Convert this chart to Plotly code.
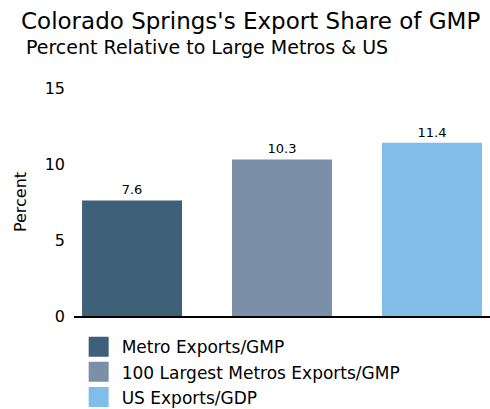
import plotly.graph_objects as go

# values
series_names = ["Metro Exports/GMP", "100 Largest Metros Exports/GMP", "US Exports/GDP"]
share_values = [7.6, 10.3, 11.4]
bar_colors = ["#3e6079", "#7b90a8", "#80bde9"]
y_ticks = [0, 5, 10, 15]

FONT = "DejaVu Sans, Liberation Sans, Arial, sans-serif"

fig = go.Figure()

for name, val, col in zip(series_names, share_values, bar_colors):
    fig.add_trace(
        go.Bar(
            x=[name],
            y=[val],
            name=name,
            marker=dict(color=col, line=dict(width=0)),
            text=[f"{val:.1f}"],
            textposition="outside",
            textfont=dict(size=13, color="black", family=FONT),
            cliponaxis=False,
            showlegend=False,
        )
    )
    # legend-only entry so the swatch can be a big square
    fig.add_trace(
        go.Scatter(
            x=[None],
            y=[None],
            mode="markers",
            name=name,
            marker=dict(symbol="square", size=20, color=col, line=dict(width=4, color=col)),
        )
    )

fig.update_layout(
    width=490,
    height=409,
    margin=dict(l=74, r=0, t=88, b=93, autoexpand=False),
    paper_bgcolor="white",
    plot_bgcolor="white",
    barmode="overlay",
    bargap=1 / 3,
    font=dict(family=FONT, color="black", size=14),
    showlegend=True,
    legend=dict(
        x=0.004,
        y=-0.058,
        xanchor="left",
        yanchor="top",
        font=dict(size=17),
        tracegroupgap=0,
        itemwidth=36,
    ),
    annotations=[
        dict(
            text="Colorado Springs's Export Share of GMP",
            xref="paper", yref="paper", x=-0.133, y=1.294,
            xanchor="left", yanchor="middle", showarrow=False,
            font=dict(size=23, family=FONT),
        ),
        dict(
            text="Percent Relative to Large Metros & US",
            xref="paper", yref="paper", x=-0.12, y=1.18,
            xanchor="left", yanchor="middle", showarrow=False,
            font=dict(size=19, family=FONT),
        ),
    ],
)

fig.update_xaxes(
    type="category",
    range=[-0.387, 2.387],
    showticklabels=False,
    showgrid=False,
    showline=True,
    linecolor="black",
    linewidth=1.5,
    ticks="",
)
fig.update_yaxes(
    range=[0, 15],
    tickvals=y_ticks,
    showgrid=False,
    zeroline=False,
    showline=False,
    ticks="",
    ticklabelstandoff=8,
    tickfont=dict(size=16),
    title=dict(text="Percent", font=dict(size=16), standoff=14),
)

fig.write_html(
    "out.html",
    config={"displayModeBar": False},
    post_script="document.body.style.margin='0px';",
)
